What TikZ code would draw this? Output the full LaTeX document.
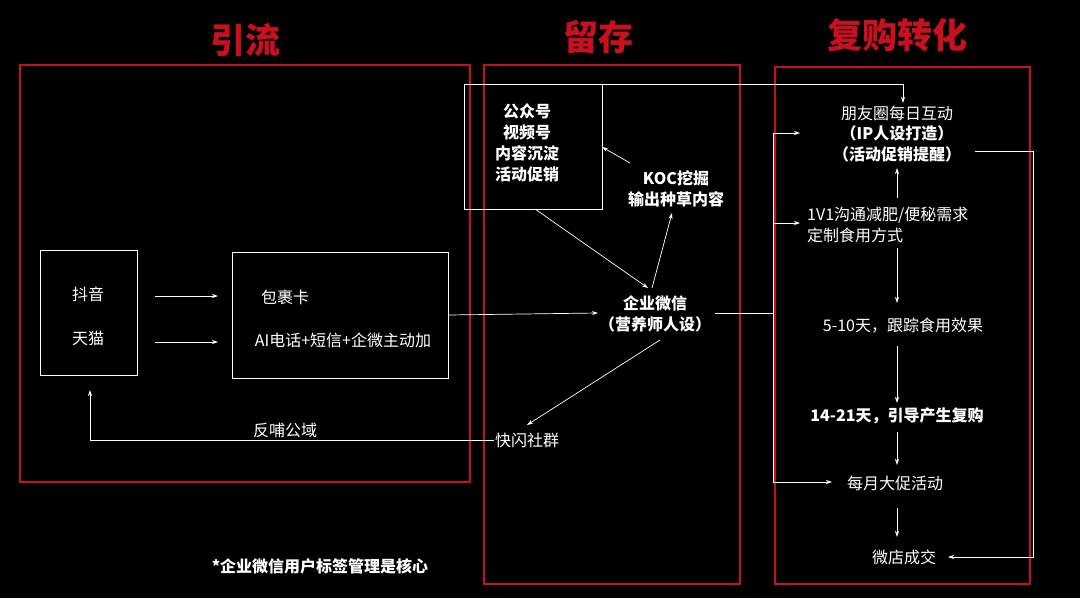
\documentclass[tikz,border=0pt]{standalone}
\usepackage{fontspec}
\usepackage{xcolor}
\setmainfont{Noto Sans CJK SC}
\usetikzlibrary{arrows.meta}
\definecolor{frame}{RGB}{200,16,30}
\tikzset{
  txt/.style={text=white,inner sep=1pt,font=\fontsize{16}{21}\selectfont,align=center},
  bold/.style={txt,font=\fontsize{16}{21}\selectfont\bfseries},
  title/.style={text=frame,font=\fontsize{35}{38}\selectfont\bfseries},
  wbox/.style={draw=white,line width=0.8pt},
  rbox/.style={draw=frame,line width=2.5pt},
  link/.style={draw=white,line width=0.7pt,-{Stealth[length=6pt,width=4pt]}},
  wire/.style={draw=white,line width=0.7pt}
}
\begin{document}
\begin{tikzpicture}[x=1pt,y=1pt,yscale=-1]
\fill[black] (0,0) rectangle (1080,598);
\useasboundingbox (0,0) rectangle (1080,598);

%Titles
\node[title] (t1) at (245,40) {引流};
\node[title] (t2) at (598,37) {留存};
\node[title] (t3) at (897,35) {复购转化};

%Red frames
\draw[rbox] (20,65) rectangle (470,482);
\draw[rbox] (484,65) rectangle (740,584);
\draw[rbox] (775,67) rectangle (1030,584);

%Shape: boxes
\draw[wbox] (40,250) rectangle (137,375);
\draw[wbox] (232,252) rectangle (448,378);
\draw[wbox] (464,84) rectangle (602,209);

% Text Node
\node[txt] (dy) at (88,294) {抖音};
\node[txt] (tm) at (88,338) {天猫};
\node[txt] (bgk) at (285,297) {包裹卡};
\node[txt] (ai) at (343,340) {AI电话+短信+企微主动加};
\node[bold,align=center] (gzh) at (527,143) {公众号\\视频号\\内容沉淀\\活动促销};
\node[bold] (koc) at (676,189) {KOC挖掘\\输出种草内容};
\node[bold] (qw) at (655,314) {企业微信\\（营养师人设）};
\node[txt] (ks) at (527,440) {快闪社群};
\node[txt] (fb) at (285,430) {反哺公域};
\node[txt] (pyq) at (897,113) {朋友圈每日互动};
\node[bold] (ip) at (897,144) {（IP人设打造）\\（活动促销提醒）};
\node[txt,align=left,anchor=west] (yv1) at (806,225) {1V1沟通减肥/便秘需求\\定制食用方式};
\node[txt] (d5) at (903,326) {5-10天，跟踪食用效果};
\node[bold] (d14) at (897,416) {14-21天，引导产生复购};
\node[txt] (my) at (895,483) {每月大促活动};
\node[txt] (wd) at (904,557) {微店成交};
\node[bold] (note) at (320,566) {*企业微信用户标签管理是核心};

%Coordinates
\coordinate (j1) at (773,313);
\coordinate (j2) at (773,133);
\coordinate (j3) at (773,223);
\coordinate (j4) at (773,482);
\coordinate (r1) at (1033,151);
\coordinate (r2) at (1033,557);

%Straight Lines
\draw[link] (155,296) -- (218,296);
\draw[link] (155,342) -- (218,342);
\draw[link] (448,315) -- (598,313);
\draw[link] (630,163) -- (602,147);
\draw[link] (535,209) -- (648,288);
\draw[link] (652,288) -- (672,213);
\draw[link] (660,340) -- (527,425);
\draw[link] (ks.west) -- (90,440) -- (90,390);
\draw[link] (464,84) -- (903,84) -- (903,103);
\draw[wire] (715,313) -- (j1);
\draw[wire] (j2) -- (j4);
\draw[link] (j2) -- (800,133);
\draw[link] (j3) -- (800,223);
\draw[link] (j4) -- (832,482);
\draw[link] (897,198) -- (897,168);
\draw[link] (897,248) -- (897,303);
\draw[link] (897,346) -- (897,403);
\draw[link] (897,432) -- (897,465);
\draw[link] (897,508) -- (897,537);
\draw[link] (975,151) -- (r1) -- (r2) -- (948,557);
\end{tikzpicture}
\end{document}
